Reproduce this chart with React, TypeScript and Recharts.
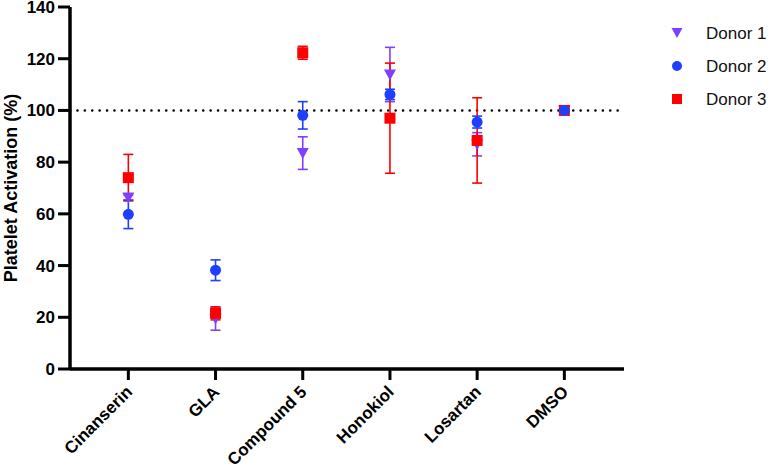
import React from 'react';
import {
  ScatterChart,
  Scatter,
  XAxis,
  YAxis,
  ErrorBar,
  ReferenceLine,
} from 'recharts';

const categories = ['Cinanserin', 'GLA', 'Compound 5', 'Honokiol', 'Losartan', 'DMSO'];
const yTicks = [0, 20, 40, 60, 80, 100, 120, 140];
const yMinorTicks = [0, 5, 10, 15, 20, 25, 30, 35, 40, 45, 50, 55, 60, 65, 70, 75, 80, 85, 90, 95, 100, 105, 110, 115, 120, 125, 130, 135, 140];

const donor1Mean = [66.3, 19.5, 83.5, 113.9, 86.9, 100];
const donor1Err = [1, 4.5, 6.3, 10.5, 4.5, 0];
const donor2Mean = [59.8, 38.2, 98.1, 106.2, 95.5, 100];
const donor2Err = [5.5, 4, 5.3, 2, 2.3, 0];
const donor3Mean = [74, 21.5, 122.3, 97, 88.4, 100];
const donor3Err = [9, 2.5, 2.5, 21.3, 16.5, 0];

const PURPLE = '#7F3FFF';
const BLUE = '#1F3FFF';
const RED = '#FF0000';
const FONT = '"Liberation Sans", Arial, sans-serif';

const toRows = (mean: number[], err: number[]) =>
  categories.map((name, i) => ({ x: i + 1, y: mean[i], err: err[i], name }));

const donor1 = toRows(donor1Mean, donor1Err);
const donor2 = toRows(donor2Mean, donor2Err);
const donor3 = toRows(donor3Mean, donor3Err);

const DownTriangle = (props: any) => {
  const { cx, cy, fill } = props;
  return <path d={`M${cx - 6},${cy - 5} L${cx + 6},${cy - 5} L${cx},${cy + 6} Z`} fill={fill} />;
};
const Dot = (props: any) => <circle cx={props.cx} cy={props.cy} r={5.5} fill={props.fill} />;
const Square = (props: any) => (
  <rect x={props.cx - 5.5} y={props.cy - 5.5} width={11} height={11} fill={props.fill} />
);

// tick marks drawn as filled rects so they can't vanish
const YTick = ({ x, y, payload }: any) => (
  <g>
    <rect x={x + 3} y={y - 1.5} width={12} height={3} fill="#000" />
    <text x={x} y={y + 6} textAnchor="end" fontFamily={FONT} fontWeight="bold" fontSize={17} fill="#000">
      {payload.value}
    </text>
  </g>
);

const YMinorTick = ({ x, y }: any) => <rect x={x - 7} y={y - 1.5} width={7} height={3} fill="#000" />;

const XTick = ({ x, y, payload }: any) => {
  const label = categories[payload.value - 1];
  return (
    <g>
      <rect x={x - 1.5} y={y - 11} width={3} height={11} fill="#000" />
      <text x={x + 5} y={y + 13} textAnchor="end" transform={`rotate(-45, ${x + 5}, ${y + 13})`}
        fontFamily={FONT} fontWeight="bold" fontSize={17} fill="#000">
        {label}
      </text>
    </g>
  );
};

const legendItems = [
  { label: 'Donor 1', color: PURPLE, shape: 'tri' },
  { label: 'Donor 2', color: BLUE, shape: 'dot' },
  { label: 'Donor 3', color: RED, shape: 'sq' },
];

const LegendBox = () => (
  <svg width={110} height={110} style={{ position: 'absolute', left: 669, top: 20 }}>
    {legendItems.map((it, i) => {
      const cy = 13 + i * 33;
      const cx = 8;
      return (
        <g key={it.label}>
          {it.shape === 'tri' && <path d={`M${cx - 5.5},${cy - 5} L${cx + 5.5},${cy - 5} L${cx},${cy + 5} Z`} fill={it.color} />}
          {it.shape === 'dot' && <circle cx={cx} cy={cy} r={5} fill={it.color} />}
          {it.shape === 'sq' && <rect x={cx - 5} y={cy - 5} width={10} height={10} fill={it.color} />}
          <text x={37} y={cy + 6} fontFamily={FONT} fontSize={17} fill="#111">
            {it.label}
          </text>
        </g>
      );
    })}
  </svg>
);

export default function App() {
  return (
    <div style={{ position: 'absolute', left: 0, top: 0, width: 776, height: 473, background: '#fff' }}>
      <ScatterChart width={776} height={473} margin={{ top: 7, right: 152, bottom: 0, left: 0 }}>
        <XAxis
          type="number"
          dataKey="x"
          domain={[0.331, 6.684]}
          ticks={[1, 2, 3, 4, 5, 6]}
          height={104}
          tickSize={11}
          tickMargin={0}
          tick={<XTick />}
          axisLine={{ stroke: '#000', strokeWidth: 3.5 }}
          tickLine={false}
          allowDataOverflow
        />
        <YAxis
          yAxisId="minor"
          type="number"
          domain={[0, 140]}
          ticks={yMinorTicks}
          interval={0}
          width={0}
          tickSize={0}
          tickMargin={0}
          tick={<YMinorTick />}
          axisLine={false}
          tickLine={false}
          allowDataOverflow
        />
        <YAxis
          type="number"
          dataKey="y"
          domain={[0, 140]}
          ticks={yTicks}
          interval={0}
          width={70}
          tickSize={12}
          tickMargin={3}
          tick={<YTick />}
          axisLine={{ stroke: '#000', strokeWidth: 3.5 }}
          tickLine={false}
          label={{
            value: 'Platelet Activation (%)',
            angle: -90,
            position: 'insideLeft',
            offset: 11,
            style: { textAnchor: 'middle', fontFamily: FONT, fontWeight: 'bold', fontSize: 18, fill: '#000' },
          }}
        />
        <ReferenceLine y={100} stroke="#000" strokeWidth={2.5} strokeDasharray="0.1 7.3" strokeLinecap="round" />
        <Scatter name="Donor 1" data={donor1} fill={PURPLE} shape={<DownTriangle />} isAnimationActive={false}>
          <ErrorBar dataKey="err" direction="y" width={5} stroke={PURPLE} strokeWidth={1.6} />
        </Scatter>
        <Scatter name="Donor 3" data={donor3} fill={RED} shape={<Square />} isAnimationActive={false}>
          <ErrorBar dataKey="err" direction="y" width={5} stroke={RED} strokeWidth={1.6} />
        </Scatter>
        <Scatter name="Donor 2" data={donor2} fill={BLUE} shape={<Dot />} isAnimationActive={false}>
          <ErrorBar dataKey="err" direction="y" width={5} stroke={BLUE} strokeWidth={1.6} />
        </Scatter>
      </ScatterChart>
      <LegendBox />
    </div>
  );
}
